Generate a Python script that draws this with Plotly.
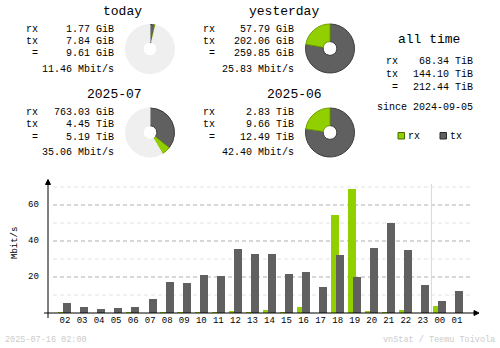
import plotly.graph_objects as go

W, H = 500, 348
MONO = "Liberation Mono"
RX_COLOR = "#92CF00"
TX_COLOR = "#606060"
FREE_COLOR = "#EFEFEF"

# ---- hourly traffic (Mbit/s), oldest hour first ----
hours = ["02", "03", "04", "05", "06", "07", "08", "09", "10", "11", "12", "13",
         "14", "15", "16", "17", "18", "19", "20", "21", "22", "23", "00", "01"]
rx_rate = [0.5, 0.0, 0.0, 0.0, 0.5, 0.0, 0.5, 0.5, 0.5, 0.5, 1.1, 0.5,
           1.7, 0.5, 3.3, 0.0, 54.6, 69.1, 1.1, 0.5, 1.7, 0.0, 3.9, 0.0]
tx_rate = [5.8, 3.3, 2.2, 2.8, 3.3, 7.8, 17.3, 16.7, 21.2, 20.6, 35.7, 32.9,
           32.9, 21.7, 22.8, 14.5, 32.3, 20.1, 36.2, 50.2, 35.1, 15.6, 6.7, 12.3]
y_ticks = [20, 40, 60]
y_minor = [10, 30, 50, 70]

# ---- period summaries: (value, unit) for rx, tx, total, then avg rate ----
today_vals = [(1.77, "GiB"), (7.84, "GiB"), (9.61, "GiB")]
today_rate = 11.46
yesterday_vals = [(57.79, "GiB"), (202.06, "GiB"), (259.85, "GiB")]
yesterday_rate = 25.83
month_cur_vals = [(763.03, "GiB"), (4.45, "TiB"), (5.19, "TiB")]
month_cur_rate = 35.06
month_prev_vals = [(2.83, "TiB"), (9.66, "TiB"), (12.49, "TiB")]
month_prev_rate = 42.40
alltime_vals = [(68.34, "TiB"), (144.10, "TiB"), (212.44, "TiB")]
since_date = "2024-09-05"
stamp = "2025-07-16 02:00"


def gib(v):
    value, unit = v
    return value * 1024 if unit == "TiB" else value


def px(x):
    return x / W


def py(y):
    return 1 - y / H


fig = go.Figure()
annotations = []
shapes = []


def text(x, y, s, size=10, anchor="left", color="#000000", **kw):
    annotations.append(dict(
        x=px(x), y=py(y), xref="paper", yref="paper", text=s, showarrow=False,
        xanchor=anchor, yanchor="middle", borderpad=0,
        font=dict(family=MONO, size=size, color=color), **kw))


def summary_block(title, tx_center, x_left, x_right, y_title, y_rows, vals, rate):
    text(tx_center, y_title, title, size=13, anchor="center")
    labels = ["rx", "tx", " ="]
    for lab, v, yy in zip(labels, vals, y_rows):
        text(x_left, yy, lab.replace(" ", "&nbsp;"))
        text(x_right, yy, f"{v[0]:.2f} {v[1]}", anchor="right")
    text(x_right, y_rows[3], f"{rate:.2f} Mbit/s", anchor="right")


def pie(cx, cy, r, values, colors, lines):
    fig.add_trace(go.Pie(
        values=values, sort=False, direction="clockwise", rotation=0,
        hole=0.28, textinfo="none", hoverinfo="skip", showlegend=False,
        marker=dict(colors=colors, line=dict(color=lines, width=1)),
        domain=dict(x=[px(cx - r), px(cx + r)], y=[py(cy + r), py(cy - r)])))


rows_top = [29.5, 41.5, 53.7, 69]
rows_bot = [112, 124.5, 137.3, 152.3]

summary_block("today", 122, 25, 115, 11.5, rows_top, today_vals, today_rate)
summary_block("yesterday", 284, 202, 295, 11.5, rows_top, yesterday_vals, yesterday_rate)
summary_block("2025-07", 114, 25, 115, 94.5, rows_bot, month_cur_vals, month_cur_rate)
summary_block("2025-06", 294, 202, 295, 94.5, rows_bot, month_prev_vals, month_prev_rate)

EDGE_TX = "#3c3c3c"
EDGE_RX = "#6f9e00"

# today against the whole of yesterday
t_rx, t_tx, t_tot = (gib(v) for v in today_vals)
y_rx, y_tx, y_tot = (gib(v) for v in yesterday_vals)
pie(150, 49, 24.5, [t_tx, t_rx, y_tot - t_tot],
    [TX_COLOR, RX_COLOR, FREE_COLOR], [EDGE_TX, EDGE_RX, FREE_COLOR])
pie(330, 48.5, 24.5, [y_tx, y_rx], [TX_COLOR, RX_COLOR], [EDGE_TX, EDGE_RX])

# current month against the whole previous month
m_rx, m_tx, m_tot = (gib(v) for v in month_cur_vals)
p_rx, p_tx, p_tot = (gib(v) for v in month_prev_vals)
pie(150, 132.5, 24.5, [m_tx, m_rx, p_tot - m_tot],
    [TX_COLOR, RX_COLOR, FREE_COLOR], [EDGE_TX, EDGE_RX, FREE_COLOR])
pie(330, 132.5, 24.5, [p_tx, p_rx], [TX_COLOR, RX_COLOR], [EDGE_TX, EDGE_RX])

# all time block
text(429, 40, "all time", size=13, anchor="center")
for lab, v, yy in zip(["rx", "tx", " ="], alltime_vals, [61.5, 74, 87.5]):
    text(385, yy, lab.replace(" ", "&nbsp;"))
    text(474, yy, f"{v[0]:.2f} {v[1]}", anchor="right")
text(474, 108, f"since {since_date}", anchor="right")

# legend
for x0, col, edge, lab in [(398, RX_COLOR, "#4a6a00", "rx"), (440, TX_COLOR, "#2a2a2a", "tx")]:
    shapes.append(dict(type="rect", xref="paper", yref="paper",
                       x0=px(x0), x1=px(x0 + 6.5), y0=py(139), y1=py(132.5),
                       fillcolor=col, line=dict(color=edge, width=1)))
    text(x0 + 9, 136, lab)

# ---- hourly bar chart ----
step = 17.04
x_first = 65.0
xr = [-x_first / step, (W - x_first) / step]
zero_y, top_y = 313, 181
y_top_val = (zero_y - top_y) / 1.8

fig.add_trace(go.Bar(x=list(range(24)), y=rx_rate, width=0.47, offset=-0.40,
                     marker=dict(color=RX_COLOR, line=dict(width=0)),
                     hoverinfo="skip", showlegend=False))
fig.add_trace(go.Bar(x=list(range(24)), y=tx_rate, width=0.47, offset=-0.10,
                     marker=dict(color=TX_COLOR, line=dict(width=0)),
                     hoverinfo="skip", showlegend=False))

for v in y_minor:
    shapes.append(dict(type="line", xref="paper", yref="y", x0=px(53), x1=px(473),
                       y0=v, y1=v, line=dict(color="#E2E2E2", width=1, dash="4px,3px"),
                       layer="below"))
for v in y_ticks:
    shapes.append(dict(type="line", xref="paper", yref="y", x0=px(53), x1=px(473),
                       y0=v, y1=v, line=dict(color="#AEAEAE", width=1, dash="4px,3px"),
                       layer="below"))
    annotations.append(dict(x=px(41), y=v, xref="paper", yref="y", text=str(v),
                            showarrow=False, xanchor="right", yanchor="middle",
                            font=dict(family=MONO, size=9, color="#000000")))

# day boundary between 23 and 00
shapes.append(dict(type="line", xref="x", yref="paper", x0=hours.index("00") - 0.5,
                   x1=hours.index("00") - 0.5, y0=py(zero_y), y1=py(184),
                   line=dict(color="#D8D8D8", width=1), layer="below"))

# axes with arrow heads
shapes.append(dict(type="line", xref="paper", yref="paper", x0=px(48), x1=px(48),
                   y0=py(318), y1=py(181), line=dict(color="#000000", width=1)))
shapes.append(dict(type="line", xref="paper", yref="paper", x0=px(44), x1=px(476),
                   y0=py(zero_y), y1=py(zero_y), line=dict(color="#000000", width=1)))
shapes.append(dict(type="path", xref="paper", yref="paper",
                   path=f"M {px(45.5)} {py(184.5)} L {px(50.5)} {py(184.5)} L {px(48)} {py(179.5)} Z",
                   fillcolor="#000000", line=dict(color="#000000", width=1)))
shapes.append(dict(type="path", xref="paper", yref="paper",
                   path=f"M {px(474)} {py(310.5)} L {px(474)} {py(315.5)} L {px(479)} {py(313)} Z",
                   fillcolor="#000000", line=dict(color="#000000", width=1)))

text(15, 243, "Mbit/s", size=9, anchor="center", textangle=-90)

# footer
text(4, 340, stamp, size=8.5, color="#CCCCCC")
text(496, 340, "vnStat / Teemu Toivola", size=8.5, anchor="right", color="#CCCCCC")

fig.update_layout(
    width=W, height=H, margin=dict(l=0, r=0, t=0, b=0),
    paper_bgcolor="#FFFFFF", plot_bgcolor="rgba(0,0,0,0)",
    barmode="overlay", bargap=0,
    xaxis=dict(domain=[0, 1], range=xr, tickvals=list(range(24)), ticktext=hours,
               showgrid=False, zeroline=False, showline=False, ticks="",
               tickfont=dict(family=MONO, size=9, color="#000000"),
               fixedrange=True),
    yaxis=dict(domain=[py(zero_y), py(top_y)], range=[0, y_top_val],
               showgrid=False, zeroline=False, showline=False,
               showticklabels=False, ticks="", fixedrange=True),
    annotations=annotations, shapes=shapes,
)

fig.write_html("out.html")
